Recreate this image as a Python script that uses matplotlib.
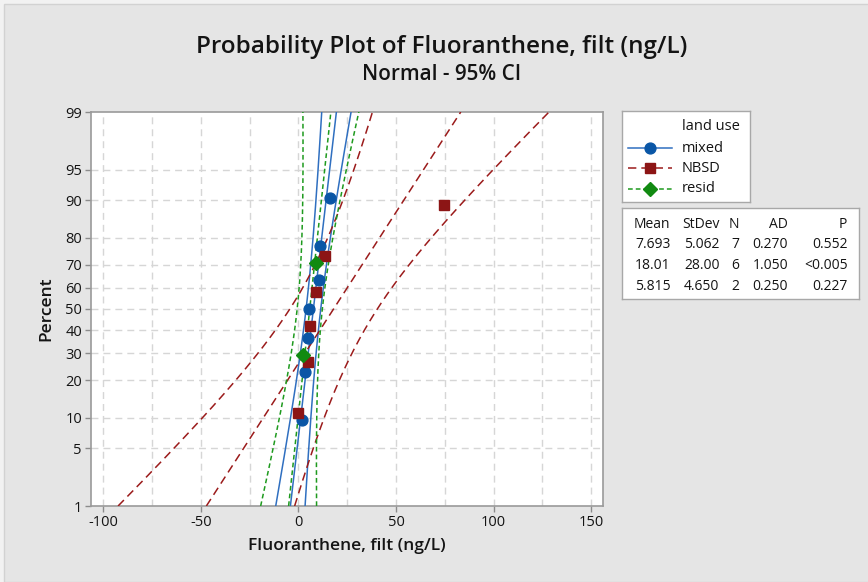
import math
from statistics import NormalDist

import numpy as np
import matplotlib
matplotlib.use("Agg")
import matplotlib.pyplot as plt
from matplotlib import font_manager as fm
from matplotlib.patches import Rectangle
from matplotlib.lines import Line2D

# ---- data -------------------------------------------------------------
groups = ["mixed", "NBSD", "resid"]
mixed_vals = [1.9, 3.55, 5.0, 5.6, 10.6, 11.1, 16.1]
nbsd_vals = [0.0, 5.06, 6.0, 9.1, 13.5, 74.4]
resid_vals = [2.53, 9.10]

means = [7.693, 18.01, 5.815]
stdevs = [5.062, 28.00, 4.650]
counts = [7, 6, 2]
ad_stats = ["0.270", "1.050", "0.250"]
p_stats = ["0.552", "<0.005", "0.227"]

pct_ticks = [1, 5, 10, 20, 30, 40, 50, 60, 70, 80, 90, 95, 99]
x_ticks = [-100, -50, 0, 50, 100, 150]
x_grid = [-100, -75, -50, -25, 0, 25, 50, 75, 100, 125, 150]

# ---- styling ----------------------------------------------------------
def pick_font(names):
    for n in names:
        try:
            fm.findfont(fm.FontProperties(family=n), fallback_to_default=False)
            return n
        except Exception:
            pass
    return "DejaVu Sans"

BODY = pick_font(["Open Sans", "Noto Sans", "Lato", "DejaVu Sans"])

plt.rcParams["font.family"] = [BODY, "DejaVu Sans"]
plt.rcParams["lines.scale_dashes"] = False
TXT = "#141414"
TW = "medium"

line_colors = ["#2f6fc0", "#9b1b1b", "#1e9a1e"]
mark_colors = ["#0a56a6", "#8c1515", "#118a11"]
markers = ["o", "s", "D"]
marker_sizes = [7.8, 7.6, 7.0]
dash_styles = ["-", (0, (6.0, 3.6)), (0, (3.4, 2.2))]
series = [mixed_vals, nbsd_vals, resid_vals]

W, H = 868, 582
fig = plt.figure(figsize=(W / 100, H / 100), dpi=100)
fig.patch.set_facecolor("#f2f2f2")
fig.patches.append(Rectangle((4 / W, 0), 1, 1 - 4 / H, transform=fig.transFigure,
                             facecolor="#e5e5e5", edgecolor="#d2d2d2", lw=1, zorder=-10))

L, R, T, B = 91, 603, 112, 506
ax = fig.add_axes([L / W, 1 - B / H, (R - L) / W, (B - T) / H])
ax.set_facecolor("white")

nd = NormalDist()
z_lo, z_hi = nd.inv_cdf(0.01), nd.inv_cdf(0.99)
z = np.linspace(z_lo, z_hi, 300)


def c4(n):
    return math.sqrt(2.0 / (n - 1)) * math.gamma(n / 2) / math.gamma((n - 1) / 2)


for k, vals in enumerate(series):
    m, s, n = means[k], stdevs[k], counts[k]
    fit = m + s * z
    half = 1.96 * np.sqrt(s ** 2 / n + z ** 2 * s ** 2 * (1 - c4(n) ** 2))
    for curve in (fit, fit - half, fit + half):
        ax.plot(curve, z, color=line_colors[k], lw=1.1, ls=dash_styles[k], zorder=3)

for k, vals in enumerate(series):
    n = len(vals)
    xs = sorted(vals)
    zs = [nd.inv_cdf((i + 1 - 0.3) / (n + 0.4)) for i in range(n)]
    ax.plot(xs, zs, ls="none", marker=markers[k], ms=marker_sizes[k],
            color=mark_colors[k], mec=mark_colors[k], zorder=5)

# ---- axes -------------------------------------------------------------
ax.set_xlim(-106.2, 156.0)
ax.set_ylim(z_lo, z_hi)

ax.set_xticks(x_ticks)
ax.set_xticklabels([str(v) for v in x_ticks], fontweight=TW)
ax.set_xticks(x_grid, minor=True)
ax.set_yticks([nd.inv_cdf(p / 100) for p in pct_ticks])
ax.set_yticklabels([str(p) for p in pct_ticks], fontweight=TW)

for v in x_grid:
    ax.axvline(v, color="#d6d6d6", lw=1.0, ls=(0, (5.0, 3.6)), zorder=1)
for p in pct_ticks[1:-1]:
    ax.axhline(nd.inv_cdf(p / 100), color="#d6d6d6", lw=1.0, ls=(0, (5.0, 3.6)), zorder=1)

ax.tick_params(axis="both", which="major", length=4, width=1, color="#8c8c8c",
               labelsize=10.5, labelcolor=TXT, pad=2.5)
ax.tick_params(axis="x", which="minor", length=0)
for sp in ax.spines.values():
    sp.set_color("#9a9a9a")
    sp.set_linewidth(1.2)

ax.set_xlabel("Fluoranthene, filt (ng/L)", fontsize=12.5, fontweight="semibold",
              color=TXT, labelpad=6)
ax.set_ylabel("Percent", fontsize=12.5, fontweight="semibold", color=TXT,
              labelpad=8)

title = fig.text(442 / W, 1 - 47 / H, "Probability Plot of Fluoranthene, filt (ng/L)",
                 ha="center", va="center", fontsize=16, fontweight="semibold", color=TXT)
subtitle = fig.text(442 / W, 1 - 75 / H, "Normal - 95% CI", ha="center", va="center",
                    fontsize=12, fontweight="semibold", color=TXT)

# size the headings to their intended pixel widths
renderer = fig.canvas.get_renderer()
for t, target in ((title, 493.0), (subtitle, 159.0)):
    w = t.get_window_extent(renderer).width
    t.set_fontsize(t.get_fontsize() * target / w)

# ---- legend box -------------------------------------------------------
lx0, ly0, lx1, ly1 = 622, 111, 750, 202
lax = fig.add_axes([lx0 / W, 1 - ly1 / H, (lx1 - lx0) / W, (ly1 - ly0) / H])
lax.set_xlim(lx0, lx1)
lax.set_ylim(ly1, ly0)
lax.set_xticks([])
lax.set_yticks([])
lax.set_facecolor("white")
for sp in lax.spines.values():
    sp.set_color("#a8a8a8")
    sp.set_linewidth(1)
lax.text(681.5, 127, "land use", ha="left", va="center", fontsize=10.5,
         fontweight=TW, color=TXT)
for k, name in enumerate(groups):
    yy = 148 + 20.3 * k
    lax.add_line(Line2D([628, 672], [yy, yy], color=line_colors[k], lw=1.1,
                        ls=dash_styles[k]))
    lax.plot([650], [yy], marker=markers[k], ms=marker_sizes[k], color=mark_colors[k],
             mec=mark_colors[k])
    lax.text(681.5, yy, name, ha="left", va="center", fontsize=10.5, fontweight=TW,
             color=TXT)

# ---- statistics table -------------------------------------------------
tx0, ty0, tx1, ty1 = 622, 208, 859, 299
tax = fig.add_axes([tx0 / W, 1 - ty1 / H, (tx1 - tx0) / W, (ty1 - ty0) / H])
tax.set_xlim(tx0, tx1)
tax.set_ylim(ty1, ty0)
tax.set_xticks([])
tax.set_yticks([])
tax.set_facecolor("white")
for sp in tax.spines.values():
    sp.set_color("#a8a8a8")
    sp.set_linewidth(1)

col_right = [670.5, 719.5, 739, 788, 847.5]
header = ["Mean", "StDev", "N", "AD", "P"]
for c, h in enumerate(header):
    tax.text(col_right[c], 224, h, ha="right", va="center", fontsize=10,
             fontweight=TW, color=TXT)
for k in range(len(groups)):
    yy = 245 + 20.6 * k
    row = [f"{means[k]:.4g}" if means[k] >= 10 else f"{means[k]:.3f}",
           f"{stdevs[k]:.2f}" if stdevs[k] >= 10 else f"{stdevs[k]:.3f}",
           str(counts[k]), ad_stats[k], p_stats[k]]
    for c, txt in enumerate(row):
        tax.text(col_right[c], yy, txt, ha="right", va="center", fontsize=10,
                 fontweight=TW, color=TXT)

fig.savefig("out.png", dpi=100, facecolor=fig.get_facecolor())
